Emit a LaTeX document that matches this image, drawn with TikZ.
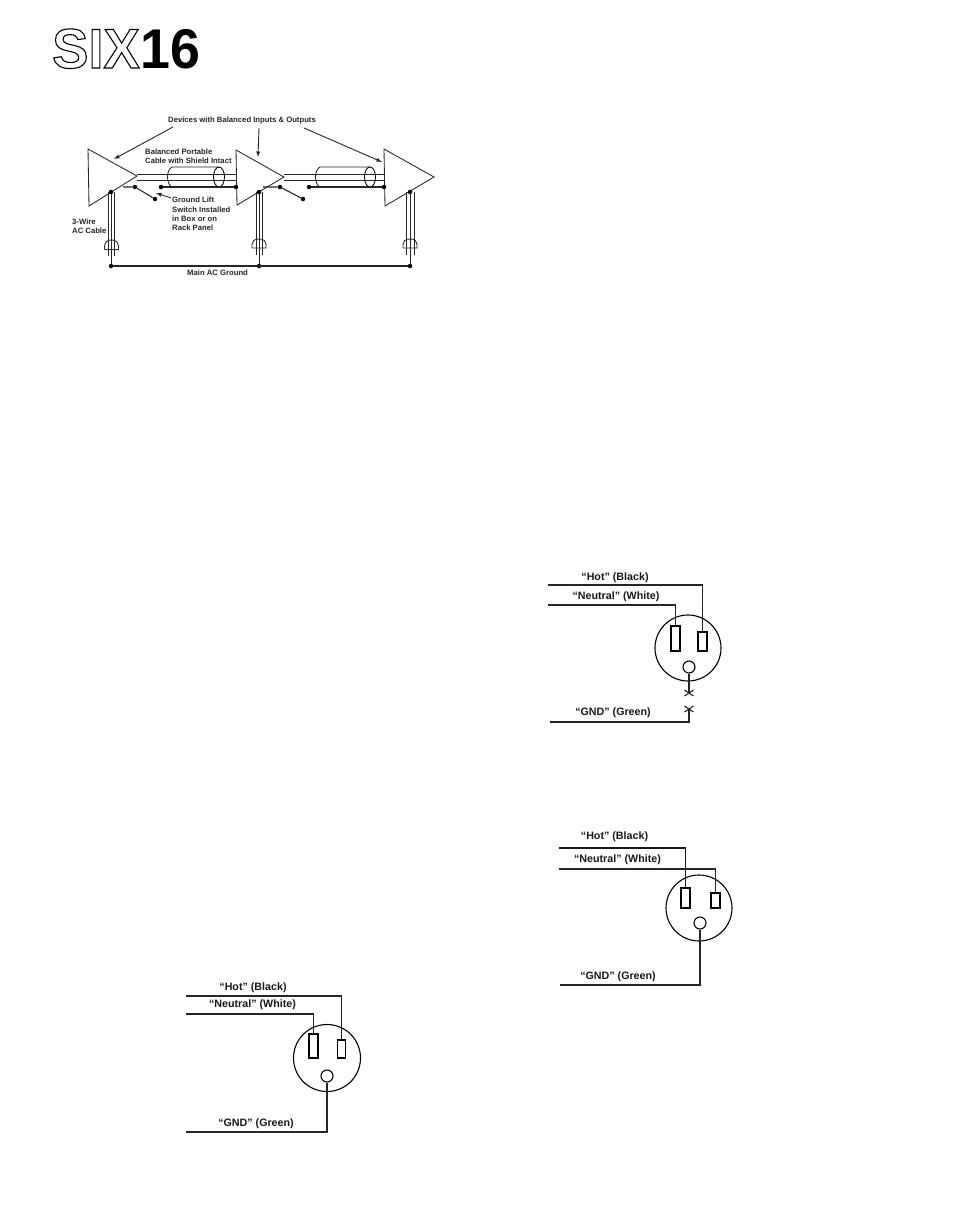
\documentclass[tikz,border=0pt]{standalone}
\usepackage{fontspec}
\usetikzlibrary{shapes.geometric}
\setmainfont{Liberation Sans}
\begin{document}
\begin{tikzpicture}[x=1pt,y=-1pt,line join=miter,
  wire/.style={line width=1.1pt,black!85},
  thin wire/.style={line width=0.85pt,black!85},
  body/.style={line width=0.85pt,black!85},
  dot/.style={circle,fill=black,inner sep=0pt,minimum size=4.5pt},
  small/.style={font=\bfseries\fontsize{7.7}{9}\selectfont,inner sep=0pt,text=black!85},
  lab/.style={font=\bfseries\fontsize{10.7}{12}\selectfont,inner sep=0pt,text=black!90},
  face/.style={circle,draw,line width=1.1pt,inner sep=0pt,minimum size=66pt},
  hole/.style={circle,draw,line width=1.1pt,inner sep=0pt,minimum size=12pt},
  prong/.style={rectangle,draw,line width=1.1pt,inner sep=0pt,minimum width=9pt},
  point/.style={-latex,line width=0.9pt,black!85},
  endcap/.style={ellipse,draw,line width=0.85pt,inner sep=0pt,minimum width=11pt,minimum height=20pt}]
\useasboundingbox (0,0) rectangle (954,1227);
\fill[white] (0,0) rectangle (954,1227);

% logo
\node[anchor=base west,inner sep=0pt,font=\bfseries\fontsize{56}{56}\selectfont] (six) at (52,68)
  {\scalebox{.97}[1]{\special{pdf:code q 1 Tr 1.1 w}SIX\special{pdf:code Q}}};
\node[anchor=base west,inner sep=0pt,font=\bfseries\fontsize{56}{56}\selectfont] (sixteen) at (140,68) {\scalebox{.96}[1]{16}};

% devices
\coordinate (t1a) at (88,149); \coordinate (t1b) at (89,206); \coordinate (t1c) at (137,176);
\coordinate (t2a) at (236,150); \coordinate (t2b) at (237,205); \coordinate (t2c) at (284,177);
\coordinate (t3a) at (384,149); \coordinate (t3b) at (385,206); \coordinate (t3c) at (434,177);
\draw[body] (t1a) -- (t1c) -- (t1b) -- cycle;
\draw[body] (t2a) -- (t2c) -- (t2b) -- cycle;
\draw[body] (t3a) -- (t3c) -- (t3b) -- cycle;

% signal pairs
\coordinate (a1) at (137,174); \coordinate (a2) at (236,174);
\coordinate (b1) at (137,180); \coordinate (b2) at (236,180);
\coordinate (c1) at (284,174); \coordinate (c2) at (384,174);
\coordinate (e1) at (284,180); \coordinate (e2) at (384,180);
\draw[thin wire] (a1) -- (a2) (b1) -- (b2) (c1) -- (c2) (e1) -- (e2);

% cable 1
\draw[thin wire] (219,167) -- (172,167) .. controls (166,170) and (166,184) .. (172,187) -- (219,187);
\node[endcap] (el1) at (219,177) {};
% cable 2
\draw[thin wire] (370,167) -- (320,167) .. controls (314,170) and (314,184) .. (320,187) -- (370,187);
\node[endcap] (el2) at (370,177) {};

% shields
\node[dot] (s1a) at (161,187) {}; \node[dot] (s1b) at (236,187) {};
\node[dot] (s2a) at (309,187) {}; \node[dot] (s2b) at (384,187) {};
\draw[wire] (s1a) -- (s1b); \draw[wire] (s2a) -- (s2b);

% ground lift switches
\coordinate (w1) at (123,187); \node[dot] (w1p) at (135,187) {}; \node[dot] (w1q) at (155,199) {};
\coordinate (w2) at (263,187); \node[dot] (w2p) at (280,187) {}; \node[dot] (w2q) at (303,199) {};
\draw[wire] (w1) -- (w1p) -- (w1q);
\draw[wire] (w2) -- (w2p) -- (w2q);

% AC cables and plugs
\node[dot] (g1) at (111,192) {}; \node[dot] (g2) at (259,192) {}; \node[dot] (g3) at (410,192) {};
\node[dot] (m1) at (111,266) {}; \node[dot] (m2) at (259,266) {}; \node[dot] (m3) at (410,266) {};
\draw[wire] (m1) -- (m3);
\draw[thin wire] (g1) -- (m1); \draw[thin wire] (g2) -- (m2); \draw[thin wire] (g3) -- (m3);
\draw[thin wire] (108,192) -- (108,256) (114,192) -- (114,256);
\draw[thin wire] (256,192) -- (256,255) (262.5,192) -- (262.5,255);
\draw[thin wire] (406,192) -- (406,255) (414,192) -- (414,255);
\draw[body] (104.5,249.5) -- (118.5,249.5) .. controls (119,241) and (115,240) .. (111.5,240) .. controls (108,240) and (104,241) .. (104.5,249.5);
\draw[body] (252,248) -- (266,248) .. controls (266.5,240) and (263,239) .. (259,239) .. controls (255,239) and (251.5,240) .. (252,248);
\draw[body] (403,248) -- (417,248) .. controls (417.5,240) and (414,239) .. (410,239) .. controls (406,239) and (402.5,240) .. (403,248);

% diagram 1 labels
\node[small,anchor=west] (dev) at (168,121) {Devices with Balanced Inputs \& Outputs};
\node[small,anchor=west] (bal1) at (145,152) {Balanced Portable};
\node[small,anchor=west] (bal2) at (145,160.5) {Cable with Shield Intact};
\node[small,anchor=west] (gl1) at (172,200) {Ground Lift};
\node[small,anchor=west] (gl2) at (172,209.5) {Switch Installed};
\node[small,anchor=west] (gl3) at (172,219) {in Box or on};
\node[small,anchor=west] (gl4) at (172,228) {Rack Panel};
\node[small,anchor=west] (ac1) at (72,222) {3-Wire};
\node[small,anchor=west] (ac2) at (72,231) {AC Cable};
\node[small,anchor=west] (mg) at (187,272.5) {Main AC Ground};

% pointers
\coordinate (p1) at (173,127); \coordinate (q1) at (114,159);
\coordinate (p2) at (259,128); \coordinate (q2) at (258,157);
\coordinate (p3) at (304,128); \coordinate (q3) at (382,162);
\coordinate (p4) at (171,198); \coordinate (q4) at (156,193);
\draw[point] (p1) -- (q1); \draw[point] (p2) -- (q2); \draw[point] (p3) -- (q3); \draw[point] (p4) -- (q4);

% outlet A (upper right)
\node[face] (fa) at (688,648) {};
\node[prong,minimum height=25pt] (ala) at (675.5,638.5) {};
\node[prong,minimum height=19pt] (ara) at (702.5,641.5) {};
\node[hole] (ha) at (689,667) {};
\coordinate (aho) at (548,585); \coordinate (ane) at (548,605);
\draw[wire] (aho) -| (ara.north);
\draw[wire] (ane) -| (ala.north);
\coordinate (ax1) at (689,693); \coordinate (ax2) at (689,709); \coordinate (agn) at (550,722);
\draw[wire] (ha) -- (ax1);
\draw[wire] (agn) -| (ax2);
\draw[wire] (684.5,690) -- (693.5,696) (693.5,690) -- (684.5,696);
\draw[wire] (684.5,712) -- (693.5,706) (693.5,712) -- (684.5,706);
\node[lab] (lah) at (615,578) {“Hot” (Black)};
\node[lab] (lan) at (616,597) {“Neutral” (White)};
\node[lab] (lag) at (613,713) {“GND” (Green)};

% outlet B (middle right)
\node[face] (fb) at (699,908) {};
\node[prong,minimum height=20pt] (alb) at (685.5,898) {};
\node[prong,minimum height=15pt] (arb) at (715.5,900.5) {};
\node[hole] (hb) at (700,923) {};
\coordinate (bho) at (559,848); \coordinate (bne) at (559,869); \coordinate (bgn) at (560,985);
\draw[line width=1.5pt,black!90] (bho) -| (alb.north);
\draw[wire] (bne) -| (arb.north);
\draw[wire] (bgn) -| (hb.south);
\node[lab] (lbh) at (614.5,837) {“Hot” (Black)};
\node[lab] (lbn) at (617.5,860) {“Neutral” (White)};
\node[lab] (lbg) at (618,977) {“GND” (Green)};

% outlet C (lower left)
\node[face,minimum size=67pt] (fc) at (327,1058) {};
\node[prong,minimum height=24pt] (alc) at (313.5,1046) {};
\node[prong,minimum height=18pt,minimum width=8pt] (arc) at (341.5,1049) {};
\node[hole] (hc) at (327,1076) {};
\coordinate (cho) at (186,996); \coordinate (cne) at (186,1014); \coordinate (cgn) at (186,1132);
\draw[wire] (cho) -| (arc.north);
\draw[wire] (cne) -| (alc.north);
\draw[wire] (cgn) -| (hc.south);
\node[lab] (lch) at (253,988) {“Hot” (Black)};
\node[lab] (lcn) at (252.5,1005) {“Neutral” (White)};
\node[lab] (lcg) at (256,1124) {“GND” (Green)};
\end{tikzpicture}
\end{document}
